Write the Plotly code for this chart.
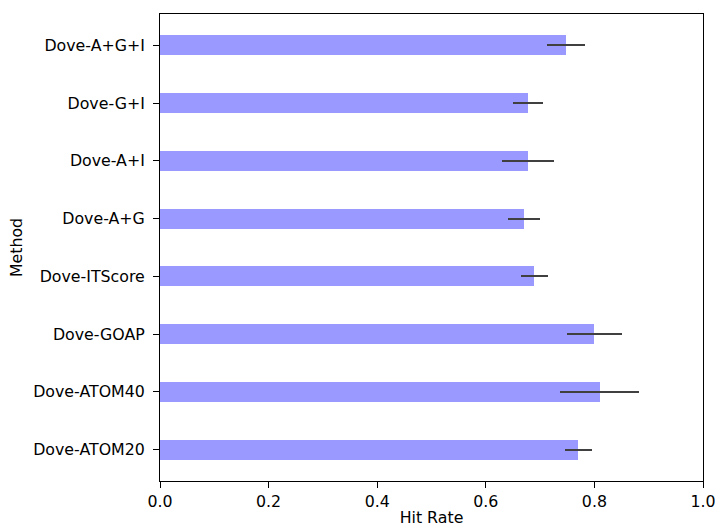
import plotly.graph_objects as go

methods = ["Dove-ATOM20", "Dove-ATOM40", "Dove-GOAP", "Dove-ITScore",
           "Dove-A+G", "Dove-A+I", "Dove-G+I", "Dove-A+G+I"]
hit_rate = [0.770, 0.810, 0.800, 0.689, 0.670, 0.678, 0.678, 0.748]
err = [0.025, 0.073, 0.050, 0.025, 0.030, 0.048, 0.028, 0.035]
x_ticks = [0.0, 0.2, 0.4, 0.6, 0.8, 1.0]

FS = 15.8

fig = go.Figure()
fig.add_trace(go.Bar(
    y=list(range(len(methods))), x=hit_rate, orientation="h",
    width=0.35,
    marker=dict(color="rgba(0,0,255,0.4)", line=dict(width=0)),
    error_x=dict(type="data", array=err, visible=True, color="#404040",
                 thickness=1.8, width=0),
))
fig.update_layout(
    width=715, height=527,
    margin=dict(l=160, r=12, t=14, b=46),
    paper_bgcolor="white", plot_bgcolor="white",
    font=dict(family="DejaVu Sans", size=FS, color="black"),
    showlegend=False,
    bargap=0,
)
fig.update_xaxes(
    range=[0, 1.0], tickvals=x_ticks, ticktext=[f"{v:.1f}" for v in x_ticks],
    showgrid=False, zeroline=False, showline=True, linecolor="black",
    linewidth=1, mirror=True, ticks="outside", ticklen=6, tickcolor="black",
    tickfont=dict(size=FS), ticklabeloverflow="allow", ticklabelstandoff=0,
    title=dict(text="Hit Rate", standoff=14, font=dict(size=FS)),
    automargin=False,
)
fig.update_yaxes(
    range=[-0.5425, 7.5425], tickvals=list(range(len(methods))), ticktext=methods,
    showgrid=False, zeroline=False, showline=True, linecolor="black",
    linewidth=1, mirror=True, ticks="outside", ticklen=6, tickcolor="black",
    tickfont=dict(size=FS), ticklabelstandoff=5, ticklabeloverflow="allow",
    title=dict(text="Method", standoff=6, font=dict(size=FS)),
    automargin=False,
)
fig.write_html("out.html", config={"displayModeBar": False},
               post_script="document.body.style.margin='0';document.body.style.overflow='hidden';")
